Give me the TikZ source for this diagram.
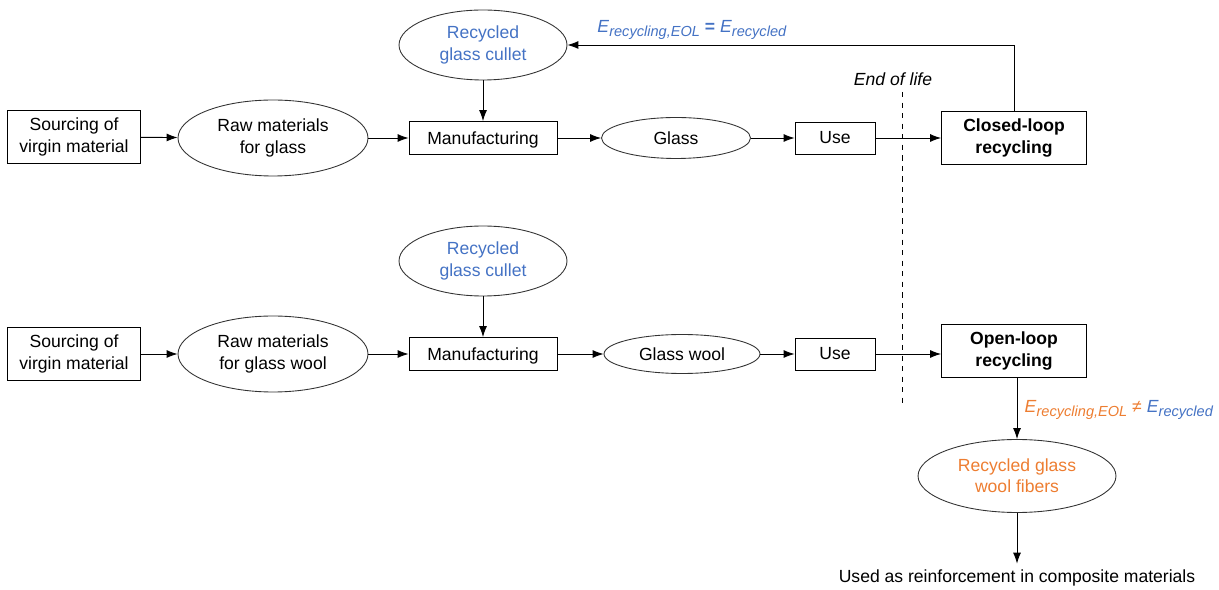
\documentclass[tikz,border=0pt]{standalone}
\usepackage{fontspec}
\setmainfont{Liberation Sans}
\usetikzlibrary{shapes.geometric,arrows.meta}
\definecolor{recblue}{RGB}{68,114,196}
\definecolor{recorange}{RGB}{237,125,49}
\newcommand{\Erec}[1]{\textit{E}\raisebox{-0.5ex}{\fontsize{8.3pt}{10pt}\selectfont\textit{#1}}}
\tikzset{
	txt/.style={font=\fontsize{10pt}{12pt}\selectfont},
	stepbox/.style={draw, rectangle, line width=0.5pt, inner sep=0pt, align=center, txt},
	stepoval/.style={draw=black!80, ellipse, line width=0.5pt, inner sep=0pt, align=center, txt},
	flow/.style={-{Latex[length=2.2mm,width=1.6mm]}, line width=0.5pt}
}
\begin{document}
\begin{tikzpicture}[x=0.02cm,y=-0.02cm]
				
				\useasboundingbox (0,0) rectangle (1219,590);
				% closed loop
				\node[stepbox, minimum width=2.66cm, minimum height=1.06cm] (src1) at (74,137) {Sourcing of\\virgin material};
				\node[stepoval, minimum width=3.8cm, minimum height=1.52cm] (raw1) at (273,138) {Raw materials\\for glass};
				\node[stepbox, minimum width=2.96cm, minimum height=0.66cm, text depth=0pt] (man1) at (483,138) {Manufacturing};
				\node[stepoval, minimum width=3.36cm, minimum height=1.4cm, text=recblue] (cul1) at (483,45) {Recycled\\glass cullet};
				\node[stepoval, minimum width=2.98cm, minimum height=0.82cm] (gls1) at (676,138) {Glass};
				\node[stepbox, minimum width=1.6cm, minimum height=0.64cm] (use1) at (835,138) {Use};
				\node[stepbox, minimum width=2.9cm, minimum height=1.06cm, font=\fontsize{10pt}{12pt}\selectfont\bfseries] (clr) at (1014,138) {Closed-loop\\recycling};
				\draw[flow] (src1) -- (raw1);
				\draw[flow] (raw1) -- (man1);
				\draw[flow] (cul1) -- (man1);
				\draw[flow] (man1) -- (gls1);
				\draw[flow] (gls1) -- (use1);
				\draw[flow] (use1) -- (clr);
				\draw[flow] (clr.north) |- (cul1.east);
				\node[text=recblue, txt] (eq) at (692,30) {\Erec{recycling,EOL} \textbf{=} \Erec{recycled}};
				
				% end of life
				\node[txt, font=\fontsize{10pt}{12pt}\selectfont\itshape] (eol) at (893,79) {End of life};
				\coordinate (eolt) at (902,92);
				\coordinate (eolb) at (902,408);
				\draw[dashed, line width=0.5pt] (eolt) -- (eolb);
				
				% open loop
				\node[stepbox, minimum width=2.66cm, minimum height=1.06cm] (src2) at (74,354) {Sourcing of\\virgin material};
				\node[stepoval, minimum width=3.8cm, minimum height=1.52cm] (raw2) at (273,354) {Raw materials\\for glass wool};
				\node[stepbox, minimum width=2.96cm, minimum height=0.66cm, text depth=0pt] (man2) at (483,354) {Manufacturing};
				\node[stepoval, minimum width=3.36cm, minimum height=1.4cm, text=recblue] (cul2) at (483,261) {Recycled\\glass cullet};
				\node[stepoval, minimum width=3.12cm, minimum height=0.78cm] (gls2) at (682,354) {Glass wool};
				\node[stepbox, minimum width=1.6cm, minimum height=0.64cm] (use2) at (835,354) {Use};
				\node[stepbox, minimum width=2.9cm, minimum height=1.06cm, font=\fontsize{10pt}{12pt}\selectfont\bfseries] (olr) at (1014,351) {Open-loop\\recycling};
				\node[stepoval, minimum width=3.96cm, minimum height=1.46cm, text=recorange] (fib) at (1017,476) {Recycled glass\\wool fibers};
				\node[txt] (app) at (1017,578) {Used as reinforcement in composite materials};
				\draw[flow] (src2) -- (raw2);
				\draw[flow] (raw2) -- (man2);
				\draw[flow] (cul2) -- (man2);
				\draw[flow] (man2) -- (gls2);
				\draw[flow] (gls2) -- (use2);
				\draw[flow] (use2) -- (use2 -| olr.west);
				\draw[flow] (olr.south -| fib.north) -- (fib.north);
				\draw[flow] (fib) -- (app);
				\node[txt] (neq) at (1119,410) {\textcolor{recorange}{\Erec{recycling,EOL} ≠} \textcolor{recblue}{\Erec{recycled}}};
			\end{tikzpicture}
\end{document}
